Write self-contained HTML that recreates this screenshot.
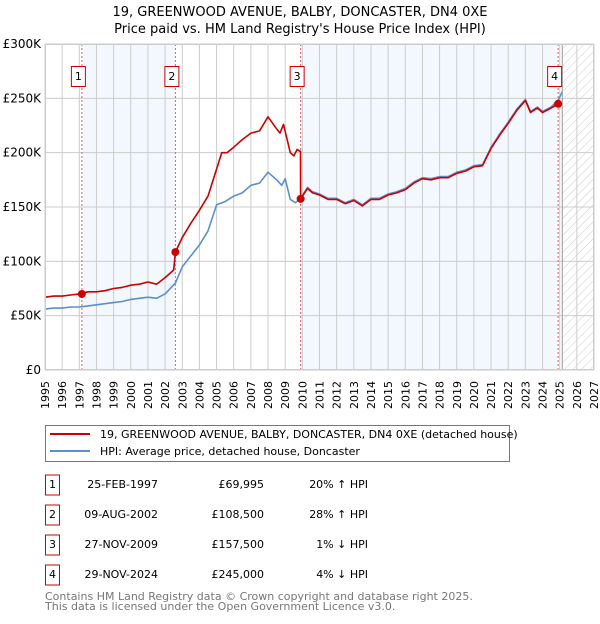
<!DOCTYPE html>
<html><head><meta charset="utf-8"><style>
body{margin:0;background:#fff;width:600px;height:620px;overflow:hidden;font-family:"DejaVu Sans","Liberation Sans",sans-serif}
svg text{font-family:"DejaVu Sans","Liberation Sans",sans-serif}
</style></head><body>
<svg id="chart" width="600" height="620">
<defs><pattern id="hatch" width="6" height="6" patternUnits="userSpaceOnUse" patternTransform="rotate(45)"><line x1="0" y1="0" x2="0" y2="6" stroke="#ccc" stroke-width="1"/></pattern></defs>
<text x="300" y="16" text-anchor="middle" font-size="13">19, GREENWOOD AVENUE, BALBY, DONCASTER, DN4 0XE</text>
<text x="300" y="33" text-anchor="middle" font-size="13">Price paid vs. HM Land Registry's House Price Index (HPI)</text>
<g id="plot"></g>
<g>
<rect x="45.5" y="425.5" width="464" height="36" fill="#fff" stroke="#777"/>
<line x1="50" y1="434" x2="90" y2="434" stroke="#cc0000" stroke-width="2"/>
<text x="100" y="438" font-size="11">19, GREENWOOD AVENUE, BALBY, DONCASTER, DN4 0XE (detached house)</text>
<line x1="50" y1="451" x2="90" y2="451" stroke="#5b8fd0" stroke-width="2"/>
<text x="100" y="455" font-size="11">HPI: Average price, detached house, Doncaster</text>
</g>
<g id="table" font-size="11"></g>
<text x="45" y="600" font-size="11" fill="#777">Contains HM Land Registry data © Crown copyright and database right 2025.</text>
<text x="45" y="610" font-size="11" fill="#777">This data is licensed under the Open Government Licence v3.0.</text>
</svg>
<script>
const hpiYears=[1995,1995.5,1996,1996.5,1997,1997.5,1998,1998.5,1999,1999.5,2000,2000.5,2001,2001.5,2002,2002.6,2003,2003.5,2004,2004.5,2005,2005.5,2006,2006.5,2007,2007.5,2008,2008.5,2008.8,2009,2009.3,2009.6,2009.9,2010.3,2010.6,2011,2011.5,2012,2012.5,2013,2013.5,2014,2014.5,2015,2015.5,2016,2016.5,2017,2017.5,2018,2018.5,2019,2019.5,2020,2020.5,2021,2021.5,2022,2022.5,2023,2023.3,2023.7,2024,2024.5,2024.9,2025.15];
const hpiValues=[56,57,57,58,58,59,60,61,62,63,65,66,67,66,70,80,95,105,115,128,152,155,160,163,170,172,182,175,170,176,157,154,158,168,164,162,158,158,154,157,152,158,158,162,164,167,173,177,176,178,178,182,184,188,189,205,217,228,240,249,238,242,238,242,248,256];
const priceYears=[1995,1995.5,1996,1996.5,1997,1997.5,1998,1998.5,1999,1999.5,2000,2000.5,2001,2001.5,2002,2002.5,2002.6,2003,2003.5,2004,2004.5,2005,2005.3,2005.6,2006,2006.5,2007,2007.5,2008,2008.5,2008.7,2008.9,2009.3,2009.5,2009.7,2009.89,2009.9,2010.3,2010.6,2011,2011.5,2012,2012.5,2013,2013.5,2014,2014.5,2015,2015.5,2016,2016.5,2017,2017.5,2018,2018.5,2019,2019.5,2020,2020.5,2021,2021.5,2022,2022.5,2023,2023.3,2023.7,2024,2024.5,2024.9,2025.1];
const priceValues=[67,68,68,69,70,72,72,73,75,76,78,79,81,79,85,92,108.5,122,135,147,160,185,200,200,205,212,218,220,233,222,218,226,200,197,203,201,157.5,167,163,161,157,157,153,156,151,157,157,161,163,166,172,176,175,177,177,181,183,187,188,204,216,227,239,248,237,241,237,241,245,243];
const saleYears=[1997.15,2002.6,2009.9,2024.91];
const saleValues=[69.995,108.5,157.5,245];
const saleDates=["25-FEB-1997","09-AUG-2002","27-NOV-2009","29-NOV-2024"];
const salePrices=["£69,995","£108,500","£157,500","£245,000"];
const saleHpi=["20% ↑ HPI","28% ↑ HPI","1% ↓ HPI","4% ↓ HPI"];
const yTicks=[0,50,100,150,200,250,300];
const yTickLabels=["£0","£50K","£100K","£150K","£200K","£250K","£300K"];
const xMin=1995,xMax=2027,yMax=300;
const L=45,R=594,T=44,B=370;
const NS="http://www.w3.org/2000/svg";
const xs=v=>L+(v-xMin)/(xMax-xMin)*(R-L);
const ys=v=>B-v/yMax*(B-T);
const plot=document.getElementById('plot');
function mk(tag,attrs,parent){const e=document.createElementNS(NS,tag);for(const k in attrs)e.setAttribute(k,attrs[k]);(parent||plot).appendChild(e);return e;}
for(const [a,b] of [[0,1],[2,3]]){
 const r=mk('rect',{x:xs(saleYears[a]),y:T,width:xs(saleYears[b])-xs(saleYears[a]),height:B-T,fill:'#f3f7fe'});
 
 
}
const hs=mk('rect',{x:xs(2025.15),y:T,width:R-xs(2025.15),height:B-T,fill:'url(#hatch)'});


for(let yr=xMin;yr<=xMax;yr++){
 const g=mk('line',{x1:xs(yr),x2:xs(yr),y1:T,y2:B,stroke:'#ccc','stroke-width':1});
 
 
 const t=mk('text',{x:0,y:0,'font-size':11,'text-anchor':'end',transform:`translate(${xs(yr)+4},${B+11}) rotate(-90)`});
 t.textContent=yr;
 
 
}
yTicks.forEach((v,i)=>{
 const g=mk('line',{x1:L,x2:R,y1:ys(v),y2:ys(v),stroke:'#ccc','stroke-width':1});
 
 
 const t=mk('text',{x:L-4,y:ys(v)+4,'font-size':12,'text-anchor':'end'});
 t.textContent=yTickLabels[i];
 
 
});
mk('line',{x1:xs(2025.15),x2:xs(2025.15),y1:T,y2:B,stroke:'#999','stroke-width':1});
saleYears.forEach((y,i)=>{
 const l=mk('line',{x1:xs(y),x2:xs(y),y1:T,y2:B,stroke:'#e06060','stroke-width':1,'stroke-dasharray':'2,2'});
 
 
 const bx=mk('rect',{x:xs(y)-10.5,y:66.5,width:14,height:20,fill:'#fff',stroke:'#cc0000'});
 
 
 const t=mk('text',{x:xs(y)-3.5,y:80,'font-size':11,'text-anchor':'middle'});
 t.textContent=i+1;
 
 
});
function line(xsArr,vals,color,name){
 const d=xsArr.map((x,i)=>(i?'L':'M')+xs(x).toFixed(1)+','+ys(vals[i]).toFixed(1)).join('');
 const p=mk('path',{d,fill:'none',stroke:color,'stroke-width':1.6,'stroke-linejoin':'round'});
 
 
}
line(hpiYears,hpiValues,'#5b8fd0','hpi-line');
line(priceYears,priceValues,'#cc0000','price-paid-line');
saleYears.forEach((y,i)=>{
 const c=mk('circle',{cx:xs(y),cy:ys(saleValues[i]),r:4,fill:'#cc0000'});
 
 
});
mk('rect',{x:L+0.5,y:T+0.5,width:R-L-1,height:B-T-1,fill:'none',stroke:'#ccc'});
const tb=document.getElementById('table');
saleDates.forEach((d,i)=>{
 const cy=483+i*30;
 const b=mk('rect',{x:45.5,y:cy-8,width:14,height:20,fill:'#fff',stroke:'#cc0000'},tb);
 
 
 const n=mk('text',{x:52.5,y:cy+5,'text-anchor':'middle'},tb);n.textContent=i+1;
 
 
 const t1=mk('text',{x:158,y:cy+5,'text-anchor':'end'},tb);t1.textContent=d;
 
 
 const t2=mk('text',{x:264,y:cy+5,'text-anchor':'end'},tb);t2.textContent=salePrices[i];
 
 
 const t3=mk('text',{x:368,y:cy+5,'text-anchor':'end'},tb);t3.textContent=saleHpi[i];
 
 
});
</script>
</body></html>
